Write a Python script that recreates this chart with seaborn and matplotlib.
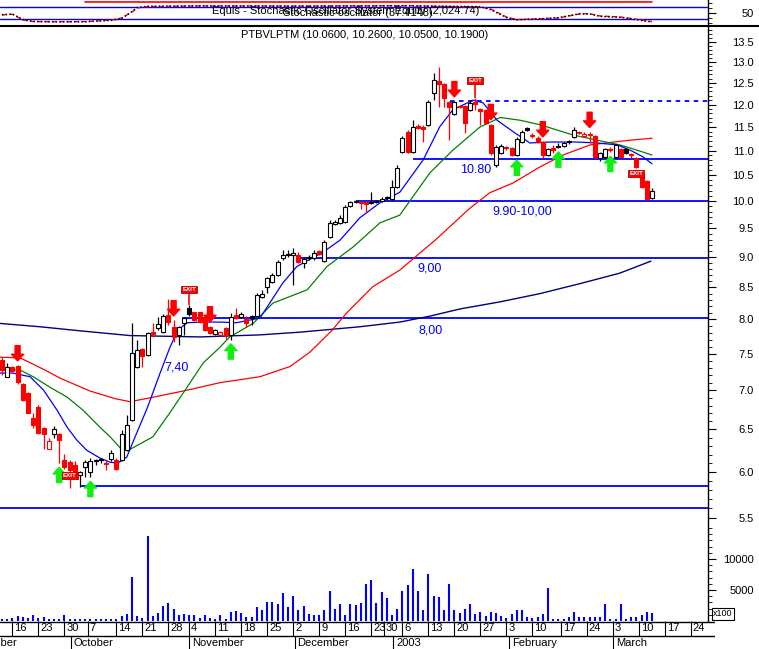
# =========================================================
# PTBVLPTM DAILY CANDLES - METASTOCK STYLE CHART
# =========================================================

import numpy as np
import matplotlib
matplotlib.use("Agg")
import matplotlib.pyplot as plt
from matplotlib.lines import Line2D
import seaborn as sns

# =========================================================
# DATA (bar 0 = 13 Sep 2002, volume in x100)
# =========================================================
opens = [7.41, 7.18, 7.31, 7.33, 7.08, 6.96, 6.64, 6.78, 6.52, 6.27,
         6.44, 6.45, 6.14, 6.11, 6.08, 5.97, 6.06, 6.00, 6.14, 6.15,
         6.10, 6.15, 6.14, 6.14, 6.25, 6.62, 7.31, 7.56, 7.48, 7.81,
         7.87, 7.81, 8.07, 7.89, 7.77, 7.95, 8.17, 8.11, 8.11, 8.04,
         7.89, 7.78, 7.77, 7.87, 7.77, 8.07, 8.04, 8.01, 8.05, 8.05,
         8.35, 8.51, 8.59, 8.70, 8.98, 9.03, 9.03, 9.03, 8.90, 8.98,
         8.98, 9.10, 8.93, 9.35, 9.58, 9.59, 9.61, 9.91, 9.98, 9.98,
         9.98, 9.97, 9.98, 10.00, 10.08, 10.04, 10.27, 10.97, 11.40, 10.97,
         11.53, 11.51, 11.55, 12.26, 12.55, 12.47, 12.06, 11.78, 11.97, 11.97,
         11.88, 12.06, 11.90, 11.88, 11.55, 10.71, 10.95, 11.08, 11.06, 10.91,
         11.18, 11.48, 11.33, 11.27, 11.18, 10.91, 11.06, 11.10, 11.10, 11.20,
         11.29, 11.40, 11.31, 11.35, 11.31, 10.85, 10.87, 11.03, 10.87, 11.03,
         11.03, 10.93, 10.85, 10.53, 10.39, 10.06]

highs = [7.45, 7.37, 7.33, 7.34, 7.10, 6.97, 6.70, 6.81, 6.53, 6.40,
         6.54, 6.46, 6.21, 6.14, 6.12, 6.01, 6.14, 6.16, 6.15, 6.16,
         6.14, 6.25, 6.16, 6.49, 6.68, 7.95, 7.70, 7.58, 7.81, 7.95,
         8.04, 8.08, 8.32, 7.99, 7.90, 8.04, 8.22, 8.12, 8.12, 8.07,
         7.90, 7.86, 7.83, 7.89, 8.10, 8.17, 8.11, 8.05, 8.07, 8.41,
         8.46, 8.67, 8.73, 8.95, 9.12, 9.12, 9.15, 9.08, 9.00, 9.03,
         9.12, 9.12, 9.29, 9.65, 9.65, 9.74, 9.93, 10.00, 10.02, 10.00,
         10.00, 10.17, 10.02, 10.08, 10.10, 10.41, 10.71, 11.31, 11.44, 11.65,
         11.57, 11.55, 12.10, 12.74, 12.88, 12.50, 12.08, 12.08, 11.99, 11.99,
         12.10, 12.15, 11.92, 11.90, 11.57, 11.12, 11.14, 11.10, 11.08, 11.29,
         11.44, 11.51, 11.38, 11.31, 11.20, 11.06, 11.12, 11.16, 11.18, 11.22,
         11.51, 11.42, 11.40, 11.40, 11.33, 10.97, 11.06, 11.08, 11.14, 11.06,
         11.06, 10.95, 10.87, 10.59, 10.41, 10.26]

lows = [7.21, 7.17, 7.24, 7.08, 6.86, 6.70, 6.52, 6.45, 6.27, 6.26,
        6.40, 6.10, 6.03, 5.82, 5.94, 5.83, 5.94, 5.94, 6.08, 6.10,
        6.02, 6.12, 6.02, 6.12, 6.24, 6.61, 7.30, 7.31, 7.47, 7.74,
        7.84, 7.80, 7.92, 7.67, 7.62, 7.77, 8.05, 7.98, 7.95, 7.83,
        7.78, 7.77, 7.76, 7.71, 7.70, 8.01, 8.02, 7.89, 7.92, 8.04,
        8.33, 8.41, 8.57, 8.68, 8.95, 9.00, 8.54, 8.90, 8.82, 8.95,
        8.95, 9.03, 8.92, 9.33, 9.56, 9.58, 9.59, 9.89, 9.97, 9.85,
        9.78, 9.95, 9.97, 9.98, 10.02, 10.02, 10.25, 10.95, 10.95, 10.95,
        11.46, 11.18, 11.53, 12.10, 11.95, 11.95, 11.22, 11.76, 11.92, 11.37,
        11.86, 11.88, 11.55, 11.57, 10.91, 10.67, 10.93, 11.01, 10.89, 10.89,
        11.16, 11.42, 11.27, 11.16, 10.85, 10.89, 10.95, 11.06, 11.08, 11.14,
        11.27, 11.35, 11.29, 11.16, 10.85, 10.79, 10.85, 10.97, 10.85, 10.86,
        10.93, 10.85, 10.65, 10.25, 10.02, 10.05]

closes = [7.27, 7.31, 7.26, 7.11, 6.87, 6.71, 6.56, 6.46, 6.44, 6.36,
          6.50, 6.37, 6.06, 6.02, 5.95, 6.00, 6.11, 6.12, 6.13, 6.14,
          6.09, 6.22, 6.03, 6.45, 6.56, 7.51, 7.55, 7.47, 7.80, 7.78,
          7.93, 8.05, 7.96, 7.74, 7.89, 8.02, 8.08, 7.99, 7.96, 7.84,
          7.80, 7.84, 7.81, 7.77, 8.04, 8.02, 8.08, 7.95, 8.02, 8.38,
          8.40, 8.65, 8.70, 8.92, 9.03, 9.05, 9.07, 8.92, 8.97, 9.00,
          9.07, 9.05, 9.26, 9.59, 9.61, 9.68, 9.89, 9.98, 10.00, 9.97,
          9.95, 9.98, 10.00, 10.04, 10.06, 10.27, 10.65, 11.26, 10.97, 11.51,
          11.48, 11.46, 12.06, 12.57, 12.47, 12.15, 11.95, 12.06, 11.95, 11.59,
          12.04, 12.01, 11.86, 11.59, 10.95, 11.08, 11.10, 11.06, 10.91, 11.24,
          11.40, 11.44, 11.31, 11.18, 10.91, 11.03, 11.01, 11.08, 11.16, 11.18,
          11.44, 11.38, 11.35, 11.33, 10.87, 10.95, 11.03, 11.01, 11.12, 10.87,
          10.95, 10.91, 10.67, 10.27, 10.04, 10.19]

volumes = [400, 300, 500, 800, 600, 500, 1000, 500, 600, 400,
           300, 400, 1000, 300, 300, 300, 400, 400, 400, 300,
           400, 400, 300, 800, 1100, 7100, 800, 500, 13700, 800,
           1300, 2400, 2900, 1900, 1000, 1100, 1000, 900, 500, 900,
           500, 300, 1000, 300, 1500, 1600, 1300, 700, 700, 2300,
           1800, 3000, 3000, 2800, 4500, 2300, 4100, 1700, 2400, 1100,
           900, 1000, 1800, 4800, 2000, 2800, 1000, 2700, 2600, 2900,
           5900, 6600, 2900, 4700, 3700, 1000, 2000, 4800, 5800, 8400,
           4800, 1800, 7600, 4100, 3800, 1700, 5900, 1700, 1300, 1900,
           2700, 1100, 1400, 800, 1400, 1300, 800, 500, 1100, 1700,
           1700, 600, 500, 700, 1100, 5400, 300, 300, 400, 600,
           1400, 600, 600, 700, 700, 700, 2700, 300, 300, 2700,
           400, 600, 700, 900, 1400, 1300]

# moving averages (bar position, price)
ma_fast_idx = [-0.4, 2, 5.4, 8, 10.6, 12.5, 14.4, 16.3, 18.8, 20.8,
               22.3, 24, 25.6, 28, 30.4, 32.3, 33.8, 35.6, 38.7, 42,
               45, 49.6, 51, 54, 56.7, 61.7, 65, 68.8, 72.7, 76.5,
               81, 84.2, 86.7, 90.6, 92.5, 95.2, 98.3, 101.5, 105.4, 110.6,
               114.4, 118.3, 120.8, 123.3, 125]
ma_fast_val = [7.23, 7.23, 7.18, 7.00, 6.74, 6.53, 6.37, 6.25, 6.16, 6.11,
               6.10, 6.17, 6.41, 6.78, 7.23, 7.59, 7.84, 7.95, 7.96, 7.96,
               7.95, 8.02, 8.19, 8.57, 8.84, 9.08, 9.29, 9.69, 9.97, 10.17,
               10.81, 11.51, 11.88, 12.10, 12.04, 11.65, 11.40, 11.16, 11.18, 11.18,
               11.16, 11.12, 11.01, 10.87, 10.73]

ma_mid_idx = [-0.4, 3.5, 6, 9.2, 12.5, 15.6, 18.8, 20.8, 22.7, 24.6,
              29, 32.3, 35.6, 38.7, 41.9, 43.8, 48.3, 52.1, 58.7, 62.5,
              67.5, 72.7, 76.5, 82.3, 86.7, 91.9, 95.8, 99.6, 103.5, 109.8,
              114.4, 118.8, 122.1, 125]
ma_mid_val = [7.28, 7.27, 7.18, 7.04, 6.91, 6.74, 6.53, 6.41, 6.28, 6.26,
              6.41, 6.71, 7.04, 7.37, 7.59, 7.74, 7.94, 8.25, 8.46, 8.84,
              9.17, 9.60, 9.74, 10.55, 11.01, 11.50, 11.71, 11.65, 11.55, 11.33,
              11.22, 11.12, 11.01, 10.91]

ma_long_idx = [-0.4, 3.5, 8.3, 11.2, 16.9, 21.7, 24.6, 28.5, 35.6, 41.9,
               49.6, 55.4, 59.2, 63.5, 66.3, 71.3, 76.5, 83.3, 90, 93.8,
               98.3, 103.5, 107.9, 113.1, 120.8, 125]
ma_long_val = [7.45, 7.44, 7.27, 7.16, 6.99, 6.89, 6.85, 6.90, 7.00, 7.10,
               7.18, 7.32, 7.52, 7.84, 8.10, 8.51, 8.78, 9.29, 9.87, 10.16,
               10.35, 10.67, 10.91, 11.12, 11.22, 11.26]

ma_trend_idx = [-0.4, 7.3, 15, 24.6, 38.1, 49.6, 57.3, 63.1, 68.8, 76.5,
                82.3, 88.1, 95.8, 103.5, 111.2, 118.8, 124.8]
ma_trend_val = [7.94, 7.89, 7.83, 7.76, 7.74, 7.77, 7.81, 7.85, 7.89, 7.96,
                8.05, 8.16, 8.27, 8.40, 8.56, 8.73, 8.93]

# stochastic oscillator and system equity (top strip)
stoch_idx = [0, 2, 4, 6, 10, 16, 18, 21, 23, 25, 26, 28, 38, 57,
             77, 92, 94, 97, 99, 103, 107, 111, 113, 115, 119, 123, 125]
stoch_d = [40, 44, 15, 7, 6, 7, 10, 15, 25, 55, 75, 82, 85, 85,
           86, 80, 70, 30, 17, 20, 25, 45, 47, 35, 30, 15, 7]
stoch_k = [42, 45, 18, 8, 6, 6, 9, 13, 22, 58, 78, 84, 86, 84,
           87, 82, 66, 27, 16, 21, 27, 46, 45, 33, 28, 12, 5]
equity_idx = [16, 23, 23, 99, 99, 125]
equity_val = [107, 107, 104, 104, 106, 106]

# drawn support / resistance lines
level_price = [12.08, 10.83, 10.0, 8.98, 8.02, 5.84, 5.60]
level_start = [86.2, 79, 68, 56.7, 34.6, 15, -0.4]
level_dashed = [True, False, False, False, False, False, False]

note_text = ["10.80", "9.90-10,00", "9,00", "8,00", "7,40"]
note_idx = [91, 100, 82.3, 82.5, 33.6]
note_price = [10.61, 9.80, 8.80, 7.84, 7.31]

# system signals
sell_idx = [3, 33, 40, 87, 94, 104, 113]
buy_idx = [11, 17, 44, 99, 107, 117]
exit_idx = [13, 36, 91, 122]
exit_price = [5.96, 8.46, 12.55, 10.53]

# date axis
week_ticks = [2, 7, 12, 16.5, 22, 27, 32, 36, 41, 46, 51, 56, 61, 66,
              71, 73.5, 77, 82, 87, 92, 97, 102, 107.5, 112.5, 117.5,
              122.5, 127.5, 132.5]
week_labels = ["16", "23", "30", "7", "14", "21", "28", "4", "11", "18",
               "25", "2", "9", "16", "23", "30", "6", "13", "20", "27",
               "3", "10", "17", "24", "3", "10", "17", "24"]
month_ticks = [13.25, 36, 56.25, 75.25, 97.5, 117.5]
month_labels = ["October", "November", "December", "2003", "February", "March"]

price_ticks = [5.5, 6.0, 6.5, 7.0, 7.5, 8.0, 8.5, 9.0, 9.5, 10.0, 10.5,
               11.0, 11.5, 12.0, 12.5, 13.0, 13.5]
volume_ticks = [5000, 10000]

# =========================================================
# FIGURE LAYOUT (pixel based, 759 x 649)
# =========================================================
sns.set_style("white")
plt.rcParams['font.family'] = ['Liberation Sans', 'DejaVu Sans']
plt.rcParams['text.color'] = 'black'
plt.rcParams['ytick.color'] = 'black'

W, H = 759, 649
fig = plt.figure(figsize=(W / 100, H / 100), dpi=100)
fig.patch.set_facecolor('white')


def px_axes(x0, y0, x1, y1):
    return fig.add_axes([x0 / W, 1 - y1 / H, (x1 - x0) / W, (y1 - y0) / H])


def px_to_bar(px):
    # bar i is drawn at pixel 2 + 5.2 * i
    return (px - 2) / 5.2


ax_st = px_axes(0, 0, 708, 25)
ax_p = px_axes(0, 27, 708, 530)
ax_v = px_axes(0, 530, 708, 621)
ax_d = px_axes(0, 621, 715, 649)

x_left, x_right = px_to_bar(0), px_to_bar(708)

BLUE = '#0000ff'
RED = '#ff0000'
GREEN = '#11ee11'

ax_p.set_yscale('log')

# =========================================================
# PRICE PANEL
# =========================================================
o = np.array(opens)
h = np.array(highs)
l = np.array(lows)
c = np.array(closes)
bars = np.arange(len(o))

prev_c = np.r_[o[0], c[:-1]]
edge = np.where(c >= prev_c, 'black', RED)
face = np.where(c >= o, 'white', edge)

for p, s, dashed in zip(level_price, level_start, level_dashed):
    ax_p.hlines(p, s, x_right, colors=BLUE, lw=1.3, zorder=2,
                linestyles=(0, (2.5, 2.5)) if dashed else 'solid')

sns.lineplot(x=ma_trend_idx, y=ma_trend_val, ax=ax_p, color='#000080',
             lw=1.0, estimator=None, sort=False, zorder=2)
sns.lineplot(x=ma_long_idx, y=ma_long_val, ax=ax_p, color=RED,
             lw=0.9, estimator=None, sort=False, zorder=2)
sns.lineplot(x=ma_mid_idx, y=ma_mid_val, ax=ax_p, color='#008000',
             lw=0.9, estimator=None, sort=False, zorder=2)
sns.lineplot(x=ma_fast_idx, y=ma_fast_val, ax=ax_p, color=BLUE,
             lw=0.9, estimator=None, sort=False, zorder=2)

ax_p.vlines(bars, l, h, colors=edge, lw=0.9, zorder=3)
ax_p.bar(bars, np.abs(c - o), bottom=np.minimum(o, c), width=0.8,
         color=face, edgecolor=edge, linewidth=0.8, zorder=4)

for t, i, p in zip(note_text, note_idx, note_price):
    ax_p.text(i, p, t, color=BLUE, fontsize=9, ha='center', va='center', zorder=5)

arrow = 'simple,head_length=0.6,head_width=1.1,tail_width=0.45'
for i in sell_idx:
    ax_p.annotate('', xy=(i, h[i]), xytext=(0, 14), textcoords='offset points',
                  arrowprops=dict(arrowstyle=arrow, color=RED, shrinkA=0,
                                  shrinkB=3, mutation_scale=8), zorder=6)
for i in buy_idx:
    ax_p.annotate('', xy=(i, l[i]), xytext=(0, -14), textcoords='offset points',
                  arrowprops=dict(arrowstyle=arrow, color=GREEN, shrinkA=0,
                                  shrinkB=3, mutation_scale=8), zorder=6)

for i, p in zip(exit_idx, exit_price):
    if p > h[i]:
        ax_p.vlines(i, h[i], p, colors=RED, lw=1.2, zorder=5)
    ax_p.text(i, p, 'EXIT', fontsize=4.5, color='white', fontweight='bold',
              ha='center', va='center', zorder=7,
              bbox=dict(boxstyle='square,pad=0.18', fc=RED, ec='#b00000', lw=0.6))

ax_p.set_xlim(x_left, x_right)
ax_p.set_ylim(5.377, 13.89)

# =========================================================
# VOLUME PANEL
# =========================================================
ax_v.vlines(bars, 0, volumes, colors=BLUE, lw=1.5)
ax_v.set_xlim(x_left, x_right)
ax_v.set_ylim(0, 14677)

# =========================================================
# STOCHASTIC STRIP
# =========================================================
ax_st.axhline(80, color=BLUE, lw=1.0)
ax_st.axhline(20, color=BLUE, lw=1.0)
sns.lineplot(x=stoch_idx, y=stoch_d, ax=ax_st, color=RED, lw=1.0,
             linestyle='--', estimator=None, sort=False)
sns.lineplot(x=stoch_idx, y=stoch_k, ax=ax_st, color='black', lw=1.0,
             linestyle=':', estimator=None, sort=False)
ax_st.plot(equity_idx, equity_val, color=RED, lw=1.2)
ax_st.set_xlim(x_left, x_right)
ax_st.set_ylim(-10, 115)

fig.text(212 / W, 1 - 10.5 / H, "Equis - Stochastic Oscillator System Equity (2,024.74)",
         fontsize=8, ha='left', va='center')
fig.text(283 / W, 1 - 13 / H, "Stochastic oscillator (37.4148)",
         fontsize=8, ha='left', va='center')
fig.text(365 / W, 1 - 35 / H, "PTBVLPTM (10.0600, 10.2600, 10.0500, 10.1900)",
         fontsize=8, ha='center', va='center')

fig.add_artist(Line2D([0, 1], [1 - 26 / H] * 2, color='black', lw=1.5,
                      transform=fig.transFigure))

# =========================================================
# RIGHT AXES
# =========================================================
def right_axis(ax, major, labels, minor):
    ax.yaxis.tick_right()
    ax.set_yticks(major)
    ax.set_yticklabels(labels)
    ax.set_yticks(minor, minor=True)
    ax.yaxis.set_minor_formatter(plt.NullFormatter())
    ax.tick_params(axis='y', which='major', length=6, width=0.8, labelsize=8,
                   pad=27, direction='out', right=True, left=False)
    ax.tick_params(axis='y', which='minor', length=3, width=0.6,
                   direction='out', right=True, left=False)
    plt.setp(ax.get_yticklabels(), ha='right')
    ax.tick_params(axis='x', which='both', bottom=False, top=False,
                   labelbottom=False)
    for s in ['left', 'top', 'bottom']:
        ax.spines[s].set_visible(False)
    ax.spines['right'].set_color('black')
    ax.spines['right'].set_linewidth(1.0)
    ax.set_facecolor('white')
    ax.set_xlabel('')
    ax.set_ylabel('')


right_axis(ax_p, price_ticks, [f"{t:.1f}" for t in price_ticks],
           list(np.round(np.arange(5.4, 13.85, 0.1), 1)))
right_axis(ax_v, volume_ticks, [str(t) for t in volume_ticks],
           list(range(1000, 14001, 1000)))
right_axis(ax_st, [50], ["50"], [0, 25, 75, 100])

fig.text(713 / W, 1 - 614 / H, "x100", fontsize=6.5, ha='left', va='center',
         bbox=dict(boxstyle='square,pad=0.12', fc='white', ec='black', lw=0.8))

# =========================================================
# DATE AXIS
# =========================================================
ax_d.set_xlim(x_left, px_to_bar(715))
ax_d.set_ylim(0, 28)
ax_d.axis('off')
ax_d.axhline(27.5, color='black', lw=1.0)
ax_d.axhline(13.5, color='black', lw=1.0)

for t, lab in zip(week_ticks, week_labels):
    ax_d.vlines(t, 13.5, 28, colors='black', lw=0.8)
    ax_d.text(t + 0.35, 20.8, lab, fontsize=8, ha='left', va='center')

for t, lab in zip(month_ticks, month_labels):
    ax_d.vlines(t, 0, 13.5, colors='black', lw=0.8)
    ax_d.text(t + 0.55, 6.5, lab, fontsize=8, ha='left', va='center')
ax_d.text(2.9, 6.5, "September", fontsize=8, ha='right', va='center')

fig.savefig("out.png", dpi=100, facecolor='white')
